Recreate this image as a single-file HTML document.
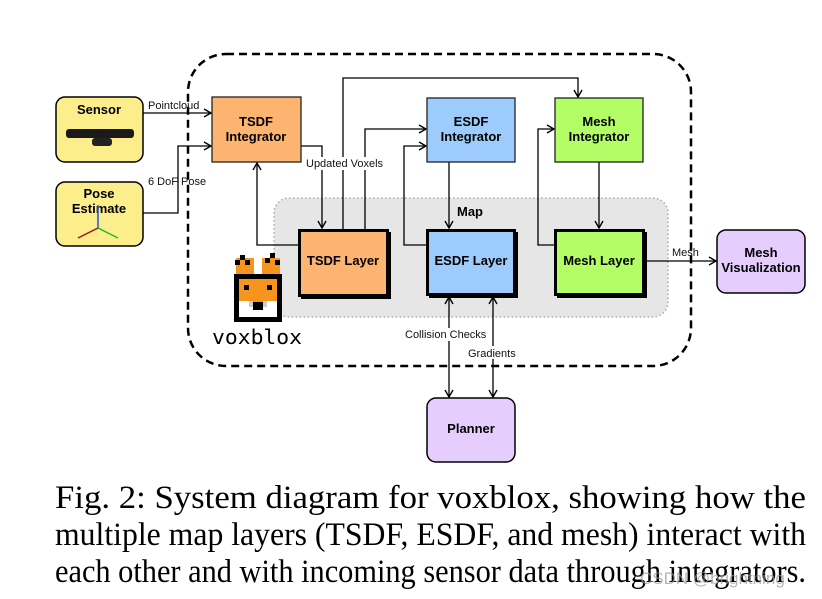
<!DOCTYPE html>
<html><head><meta charset="utf-8"><style>
html,body{margin:0;padding:0;background:#fff;}
svg{display:block}
.b{font-family:"Liberation Sans",sans-serif;font-weight:bold;font-size:13px;fill:#000;text-anchor:middle}
.l{font-family:"Liberation Sans",sans-serif;font-size:11px;fill:#111}
.c{font-family:"Liberation Serif",serif;font-size:33px;fill:#000}
</style></head><body>
<svg width="822" height="599" viewBox="0 0 822 599" xmlns="http://www.w3.org/2000/svg">
<defs>
<marker id="a" markerWidth="10" markerHeight="10" refX="8" refY="5" orient="auto" markerUnits="userSpaceOnUse">
<path d="M1,1 L8,5 L1,9" fill="none" stroke="#000" stroke-width="1.4"/></marker>
<marker id="s" markerWidth="10" markerHeight="10" refX="8" refY="5" orient="auto-start-reverse" markerUnits="userSpaceOnUse">
<path d="M1,1 L8,5 L1,9" fill="none" stroke="#000" stroke-width="1.4"/></marker>
</defs>
<rect x="274" y="198" width="394" height="119" rx="15" fill="#e6e6e6" stroke="#aaa" stroke-width="1.5" stroke-dasharray="1.5,2.5"/>
<rect x="188" y="54" width="503" height="312" rx="38" fill="none" stroke="#000" stroke-width="2.5" stroke-dasharray="8,5"/>

<g fill="none" stroke="#000" stroke-width="1.3">
<path d="M143,113 H211" marker-end="url(#a)"/>
<path d="M143,213 H178 V146 H211" marker-end="url(#a)"/>
<path d="M301,146 H322 V228" marker-end="url(#a)"/>
<path d="M298,245 H257 V163" marker-end="url(#a)"/>
<path d="M343,229 V78 H578 V97" marker-end="url(#a)"/>
<path d="M365,229 V129 H426" marker-end="url(#a)"/>
<path d="M427,245 H404 V146 H426" marker-end="url(#a)"/>
<path d="M449,162 V228" marker-end="url(#a)"/>
<path d="M555,245 H538 V129 H554" marker-end="url(#a)"/>
<path d="M599,162 V228" marker-end="url(#a)"/>
<path d="M645,261 H716" marker-end="url(#a)"/>
<path d="M449,297 V397" marker-start="url(#s)" marker-end="url(#s)"/>
<path d="M493,297 V397" marker-start="url(#s)" marker-end="url(#s)"/>
</g>
<rect x="404" y="328" width="86" height="13" fill="#fff"/>
<rect x="467" y="346" width="51" height="13" fill="#fff"/>
<rect x="305" y="157" width="81" height="13" fill="#fff"/>
<text class="l" x="148" y="109">Pointcloud</text>
<text class="l" x="148" y="185">6 DoF Pose</text>
<text class="l" x="306" y="167">Updated Voxels</text>
<text class="l" x="405" y="338">Collision Checks</text>
<text class="l" x="468" y="357">Gradients</text>
<text class="l" x="672" y="256">Mesh</text>
<text class="b" x="470" y="216">Map</text>

<rect x="56" y="97" width="87" height="65" rx="9" fill="#fdee8c" stroke="#000" stroke-width="1.5"/>
<text class="b" x="99" y="114">Sensor</text>
<rect x="66" y="129" width="68" height="9" rx="3" fill="#1a1a1a"/>
<rect x="92" y="138" width="20" height="8" rx="3" fill="#222"/>
<rect x="56" y="182" width="87" height="64" rx="9" fill="#fdee8c" stroke="#000" stroke-width="1.5"/>
<text class="b" x="99" y="198">Pose</text>
<text class="b" x="99" y="213">Estimate</text>
<g stroke-width="1.5"><path d="M98,228 V205" stroke="#2255dd"/><path d="M98,228 L78,238" stroke="#aa1111"/><path d="M98,228 L118,238" stroke="#22bb22"/></g>

<rect x="212" y="97" width="89" height="65" fill="#fdb471" stroke="#222" stroke-width="1.3"/>
<text class="b" x="256" y="126">TSDF</text><text class="b" x="256" y="141">Integrator</text>
<rect x="427" y="98" width="88" height="64" fill="#9dccfc" stroke="#222" stroke-width="1.3"/>
<text class="b" x="471" y="126">ESDF</text><text class="b" x="471" y="141">Integrator</text>
<rect x="555" y="98" width="88" height="64" fill="#b3fd66" stroke="#222" stroke-width="1.3"/>
<text class="b" x="599" y="126">Mesh</text><text class="b" x="599" y="141">Integrator</text>

<rect x="301" y="232" width="90" height="67" fill="#000"/>
<rect x="299.5" y="230.5" width="88" height="65" fill="#fdb471" stroke="#000" stroke-width="3"/>
<text class="b" x="343" y="265">TSDF Layer</text>
<rect x="429" y="232" width="89" height="66" fill="#000"/>
<rect x="427.5" y="230.5" width="87" height="64" fill="#9dccfc" stroke="#000" stroke-width="3"/>
<text class="b" x="471" y="265">ESDF Layer</text>
<rect x="557" y="232" width="90" height="66" fill="#000"/>
<rect x="555.5" y="230.5" width="88" height="64" fill="#b3fd66" stroke="#000" stroke-width="3"/>
<text class="b" x="599" y="265">Mesh Layer</text>

<rect x="717" y="230" width="88" height="63" rx="9" fill="#e5cdfd" stroke="#000" stroke-width="1.5"/>
<text class="b" x="761" y="257">Mesh</text><text class="b" x="761" y="272">Visualization</text>
<rect x="427" y="398" width="88" height="64" rx="9" fill="#e5cdfd" stroke="#000" stroke-width="1.5"/>
<text class="b" x="471" y="433">Planner</text>

<g>
<rect x="236" y="258" width="18" height="17" fill="#f7941d"/>
<rect x="262" y="258" width="18" height="17" fill="#f7941d"/>
<rect x="240" y="255" width="5" height="5" fill="#000"/><rect x="245" y="260" width="5" height="5" fill="#000"/><rect x="235" y="260" width="5" height="5" fill="#000"/>
<rect x="270" y="253" width="5" height="5" fill="#000"/><rect x="265" y="258" width="5" height="5" fill="#000"/><rect x="275" y="260" width="5" height="5" fill="#000"/>
<rect x="234" y="274" width="48" height="48" fill="#000"/>
<rect x="239" y="279" width="38" height="38" fill="#fff"/>
<rect x="239" y="279" width="38" height="22" fill="#f7941d"/>
<rect x="244" y="285" width="5" height="5" fill="#000"/><rect x="267" y="285" width="5" height="5" fill="#000"/>
<rect x="249" y="301" width="18" height="5" fill="#f7941d"/>
<rect x="253" y="302" width="10" height="8" fill="#000"/>
<rect x="249" y="301" width="4" height="6" fill="#ccc"/><rect x="263" y="301" width="4" height="6" fill="#ccc"/>
<text x="212" y="344" font-family="'DejaVu Sans Mono','Liberation Mono',monospace" font-size="20" textLength="90" lengthAdjust="spacingAndGlyphs" fill="#000">voxblox</text>
</g>

<text class="c" x="55" y="508" textLength="751" lengthAdjust="spacingAndGlyphs">Fig. 2: System diagram for voxblox, showing how the</text>
<text class="c" x="55" y="545" textLength="751" lengthAdjust="spacingAndGlyphs">multiple map layers (TSDF, ESDF, and mesh) interact with</text>
<text class="c" x="55" y="582" textLength="751" lengthAdjust="spacingAndGlyphs">each other and with incoming sensor data through integrators.</text>
<text x="640" y="584" font-family="'Liberation Sans',sans-serif" font-size="17" fill="#999" opacity="0.7">CSDN @brightning</text>
</svg>
</body></html>
